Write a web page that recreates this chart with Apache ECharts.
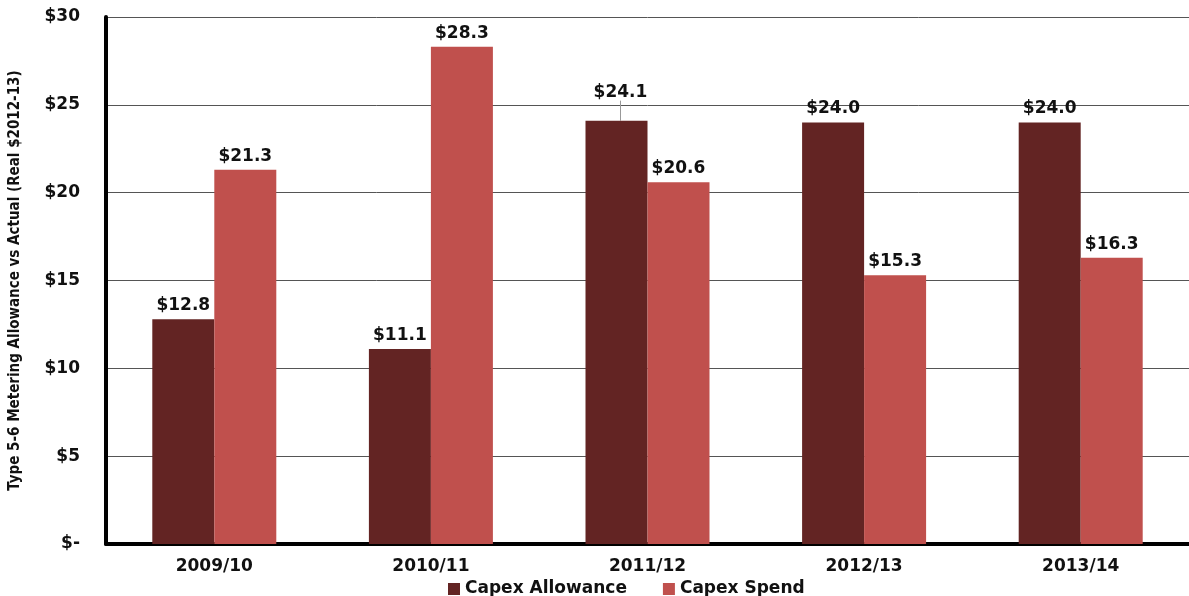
<!DOCTYPE html>
<html>
<head>
<meta charset="utf-8">
<script src="https://cdn.jsdelivr.net/npm/echarts@6/dist/echarts.min.js"></script>
<style>
  html, body { margin: 0; padding: 0; background: #fff; }
  #bar { width: 1189px; height: 596px; }
</style>
</head>
<body>
<div id="bar"></div>
<script>
var years = ["2009/10", "2010/11", "2011/12", "2012/13", "2013/14"];
var allowance = [12.8, 11.1, 24.1, 24.0, 24.0];
var spend = [21.3, 28.3, 20.6, 15.3, 16.3];
var yTicks = [0, 5, 10, 15, 20, 25, 30];

var labelFont = "Verdana, 'DejaVu Sans', sans-serif";

// the 2011/12 allowance label sits higher, with a small leader line
var allowanceData = allowance.map(function (v, i) {
  if (i === 2) return { value: v, labelLine: { show: true } };
  return v;
});

var myChart = echarts.init(document.getElementById("bar"));
var options = {
  animation: false,
  grid: { left: 101, right: 0, top: 17, bottom: 52, containLabel: false },
  legend: {
    data: ["Capex Allowance", "Capex Spend"],
    top: 575,
    left: 443,
    itemWidth: 12,
    itemHeight: 12,
    itemGap: 36,
    icon: "rect",
    textStyle: { fontFamily: labelFont, fontWeight: "bold", fontSize: 17, lineHeight: 18, color: "#111" }
  },
  xAxis: {
    type: "category",
    data: years,
    axisTick: { show: false },
    axisLine: { lineStyle: { color: "#000", width: 4 } },
    axisLabel: { fontFamily: labelFont, fontWeight: "bold", fontSize: 17, color: "#111", margin: 14 }
  },
  yAxis: {
    type: "value",
    min: yTicks[0],
    max: yTicks[yTicks.length - 1],
    interval: 5,
    name: "Type 5-6 Metering Allowance vs Actual (Real $2012-13)",
    nameLocation: "middle",
    nameGap: 83,
    nameTextStyle: { fontFamily: "'DejaVu Sans Condensed', 'DejaVu Sans', sans-serif", fontWeight: "bold", fontSize: 15, color: "#111" },
    axisLine: { show: true, lineStyle: { color: "#000", width: 4 } },
    axisTick: { show: false },
    splitLine: { lineStyle: { color: "#555", width: 1 } },
    axisLabel: {
      fontFamily: labelFont, fontWeight: "bold", fontSize: 17, color: "#111", margin: 26,
      formatter: function (v) { return v === 0 ? "$-" : "$" + v; }
    }
  },
  series: [
    {
      name: "Capex Allowance",
      type: "bar",
      barWidth: 62,
      barGap: "0%",
      data: allowanceData,
      itemStyle: { color: "#632423" },
      label: {
        show: true, position: "top", distance: 5,
        fontFamily: labelFont, fontWeight: "bold", fontSize: 17, color: "#111",
        formatter: function (p) { return "$" + p.value.toFixed(1); }
      },
      labelLine: { show: false, lineStyle: { color: "#999", width: 1 } },
      labelLayout: function (p) {
        if (p.dataIndex === 2) return { dy: -15, dx: 4 };
        return {};
      }
    },
    {
      name: "Capex Spend",
      type: "bar",
      barWidth: 62,
      data: spend,
      itemStyle: { color: "#C0504D" },
      label: {
        show: true, position: "top", distance: 5,
        fontFamily: labelFont, fontWeight: "bold", fontSize: 17, color: "#111",
        formatter: function (p) { return "$" + p.value.toFixed(1); }
      }
    }
  ]
};
myChart.setOption(options);
</script>
</body>
</html>
